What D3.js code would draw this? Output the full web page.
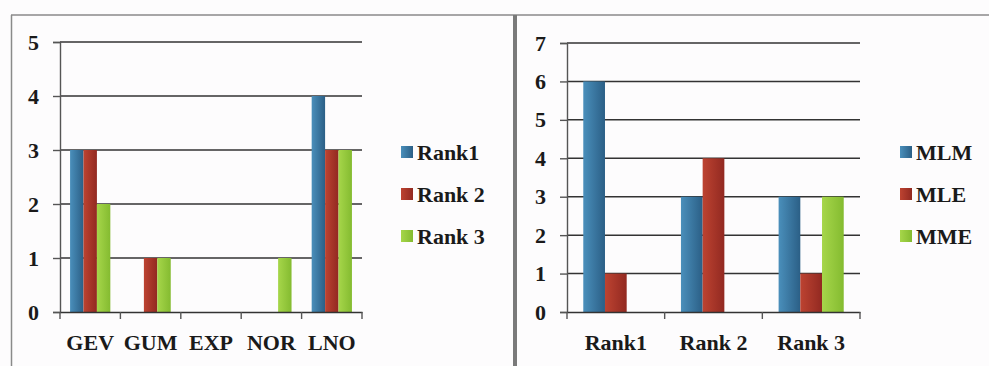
<!DOCTYPE html>
<html>
<head>
<meta charset="utf-8">
<script src="https://cdn.jsdelivr.net/npm/d3@7"></script>
<style>
  html, body { margin: 0; padding: 0; background: #fdfcfd; }
  svg { display: block; }
</style>
</head>
<body>
<svg id="chart" width="989" height="366"></svg>
<script>
// Left panel: distribution counts per rank
const distCategories = ["GEV", "GUM", "EXP", "NOR", "LNO"];
const distSeries = ["Rank1", "Rank 2", "Rank 3"];
const distRank1 = [3, 0, 0, 0, 4];
const distRank2 = [3, 1, 0, 0, 3];
const distRank3 = [2, 1, 0, 1, 3];
const distTicks = [0, 1, 2, 3, 4, 5];

// Right panel: estimation method counts per rank
const rankCategories = ["Rank1", "Rank 2", "Rank 3"];
const methodSeries = ["MLM", "MLE", "MME"];
const methodMLM = [6, 3, 3];
const methodMLE = [1, 4, 1];
const methodMME = [0, 0, 3];
const methodTicks = [0, 1, 2, 3, 4, 5, 6, 7];

const seriesColors = [
  ["#4a8fbb", "#2b5f86"],  // blue
  ["#bd4331", "#922921"],  // red
  ["#a6d64a", "#84bb30"]   // green
];

const labelFont = "'Liberation Serif'";

const svg = d3.select("#chart");
const defs = svg.append("defs");
seriesColors.forEach((c, i) => {
  const g = defs.append("linearGradient").attr("id", "grad" + i)
    .attr("x1", "0").attr("x2", "1").attr("y1", "0").attr("y2", "0");
  g.append("stop").attr("offset", "0%").attr("stop-color", c[0]);
  g.append("stop").attr("offset", "100%").attr("stop-color", c[1]);
});

// Panel frames
svg.append("line").attr("x1", 11).attr("x2", 989).attr("y1", 15).attr("y2", 15)
  .attr("stroke", "#8a8a8a").attr("stroke-width", 1.5);
svg.append("line").attr("x1", 11.5).attr("x2", 11.5).attr("y1", 15).attr("y2", 366)
  .attr("stroke", "#8a8a8a").attr("stroke-width", 1.5);
svg.append("rect").attr("x", 513).attr("y", 15).attr("width", 4).attr("height", 351)
  .attr("fill", "#7a7a7a");

function styleLabels(sel, size) {
  sel.attr("font-size", size).attr("font-weight", "bold")
    .attr("font-family", null).style("font-family", labelFont)
    .attr("fill", "#1a1a1a");
}

function drawPanel(opts) {
  const { categories, series, values, ticks, yMax, x0, x1, yTop, yBottom,
          legendX, legendY, legendGap } = opts;
  const g = svg.append("g");
  const y = d3.scaleLinear().domain([0, yMax]).range([yBottom, yTop]);
  const x = d3.scaleBand().domain(categories).range([x0, x1]).padding(0);
  const xs = d3.scaleBand().domain(series).range([0, x.bandwidth()])
    .paddingInner(0).paddingOuter(0.75);

  // Gridlines
  g.selectAll("line.grid").data(ticks.filter(t => t > 0)).join("line")
    .attr("class", "grid")
    .attr("x1", x0).attr("x2", x1)
    .attr("y1", d => y(d)).attr("y2", d => y(d))
    .attr("stroke", "#333").attr("stroke-width", 1.5);

  // Bars
  series.forEach((s, si) => {
    g.selectAll("rect.s" + si).data(categories).join("rect")
      .attr("class", "s" + si)
      .attr("x", d => x(d) + xs(s))
      .attr("width", xs.bandwidth())
      .attr("y", (d, i) => y(values[si][i]))
      .attr("height", (d, i) => y(0) - y(values[si][i]))
      .attr("fill", "url(#grad" + si + ")");
  });

  // Y axis
  const yAxis = d3.axisLeft(y).tickValues(ticks).tickSize(7).tickPadding(14)
    .tickFormat(d3.format("d"));
  const ya = g.append("g").attr("transform", `translate(${x0},0)`).call(yAxis);
  ya.attr("font-family", null);
  ya.select(".domain").attr("stroke", "#555").attr("stroke-width", 1.4);
  ya.selectAll(".tick line").attr("stroke", "#555").attr("stroke-width", 1.4);
  styleLabels(ya.selectAll(".tick text"), 22);

  // X axis
  const xa = g.append("g").attr("transform", `translate(0,${yBottom})`)
    .call(d3.axisBottom(x).tickSize(0).tickPadding(22));
  xa.attr("font-family", null);
  xa.select(".domain").attr("stroke", "#333").attr("stroke-width", 1.5);
  styleLabels(xa.selectAll(".tick text"), 22);
  // Category boundary ticks
  const bounds = categories.map(c => x(c)).concat([x1]);
  g.selectAll("line.bound").data(bounds).join("line").attr("class", "bound")
    .attr("x1", d => d).attr("x2", d => d)
    .attr("y1", yBottom).attr("y2", yBottom + 7)
    .attr("stroke", "#555").attr("stroke-width", 1.4);

  // Legend
  const lg = g.append("g");
  series.forEach((s, si) => {
    const cy = legendY + si * legendGap;
    lg.append("rect").attr("x", legendX).attr("y", cy - 6)
      .attr("width", 12).attr("height", 12).attr("fill", "url(#grad" + si + ")");
    styleLabels(lg.append("text").attr("x", legendX + 16).attr("y", cy + 7.5).text(s), 22);
  });
}

drawPanel({
  categories: distCategories, series: distSeries,
  values: [distRank1, distRank2, distRank3], ticks: distTicks, yMax: 5,
  x0: 60, x1: 362, yTop: 42, yBottom: 312,
  legendX: 401, legendY: 152, legendGap: 42
});

drawPanel({
  categories: rankCategories, series: methodSeries,
  values: [methodMLM, methodMLE, methodMME], ticks: methodTicks, yMax: 7,
  x0: 567, x1: 860, yTop: 43, yBottom: 312,
  legendX: 900, legendY: 152, legendGap: 42
});
</script>
</body>
</html>
